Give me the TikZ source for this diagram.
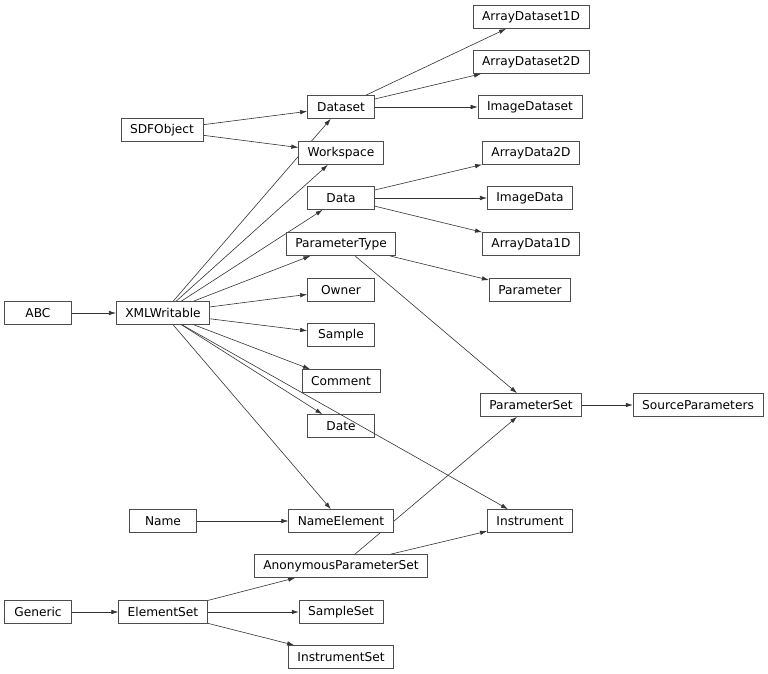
\documentclass[tikz,border=0pt]{standalone}
\usepackage{fontspec}
\setmainfont{DejaVu Sans}
\usetikzlibrary{arrows.meta,backgrounds}

\begin{document}
\begin{tikzpicture}[x=1pt,y=-1pt,
  cls/.style={draw=black!70,fill=white,line width=.7pt,minimum height=23pt,
    minimum width=67pt,inner xsep=9pt,inner ysep=0pt,
    font=\fontsize{12.2}{14}\selectfont},
  inh/.style={-{Latex[length=7pt,width=4.5pt]},draw=black!80,line width=.6pt}]
  \useasboundingbox (0,0) rectangle (768,674);
  % first column
  \node[cls] (abc) at (38,313) {ABC};
  \node[cls] (generic) at (38,612) {Generic};
  % second column
  \node[cls] (sdfobj) at (162,130) {SDFObject};
  \node[cls] (xmlw) at (163,313) {XMLWritable};
  \node[cls] (name) at (163,521) {Name};
  \node[cls] (elset) at (163,612) {ElementSet};
  % third column
  \node[cls] (dataset) at (341,107) {Dataset};
  \node[cls] (wspace) at (341,153) {Workspace};
  \node[cls] (data) at (341,198) {Data};
  \node[cls] (ptype) at (341,244) {ParameterType};
  \node[cls] (owner) at (341,290) {Owner};
  \node[cls] (sample) at (341,335) {Sample};
  \node[cls] (comment) at (341,381) {Comment};
  \node[cls] (date) at (341,426) {Date};
  \node[cls] (nameel) at (341,521) {NameElement};
  \node[cls] (anonps) at (341,566) {AnonymousParameterSet};
  \node[cls] (sampleset) at (341,612) {SampleSet};
  \node[cls] (instrset) at (341,657) {InstrumentSet};
  % fourth column
  \node[cls] (ads1d) at (531,17) {ArrayDataset1D};
  \node[cls] (ads2d) at (531,62) {ArrayDataset2D};
  \node[cls] (imgds) at (530,107) {ImageDataset};
  \node[cls] (ad2d) at (531,153) {ArrayData2D};
  \node[cls] (imgdata) at (530,198) {ImageData};
  \node[cls] (ad1d) at (531,244) {ArrayData1D};
  \node[cls] (param) at (530,290) {Parameter};
  \node[cls] (pset) at (531,405) {ParameterSet};
  \node[cls] (instr) at (530,521) {Instrument};
  % fifth column
  \node[cls] (srcpar) at (698,405) {SourceParameters};
  \begin{pgfonlayer}{background}
    \draw[inh] (abc) -- (xmlw);
    \draw[inh] (generic) -- (elset);
    \draw[inh] (sdfobj) -- (dataset);
    \draw[inh] (sdfobj) -- (wspace);
    \foreach \t in {dataset,wspace,data,ptype,owner,sample,comment,date,nameel}
      \draw[inh] (xmlw) -- (\t);
    \draw[inh] (name) -- (nameel);
    \foreach \t in {anonps,sampleset,instrset}
      \draw[inh] (elset) -- (\t);
    \foreach \t in {ads1d,ads2d,imgds}
      \draw[inh] (dataset) -- (\t);
    \foreach \t in {ad2d,imgdata,ad1d}
      \draw[inh] (data) -- (\t);
    \draw[inh] (ptype) -- (param);
    \draw[inh] (ptype) -- (pset);
    \draw[inh] (anonps) -- (pset);
    \draw[inh] (anonps) -- (instr);
    \draw[inh] (pset) -- (srcpar);
  \end{pgfonlayer}
  % this one runs over the corner of Date
  \draw[inh] ([xshift=19pt]xmlw.south) -- ([xshift=-22pt]instr.north);
\end{tikzpicture}
\end{document}
